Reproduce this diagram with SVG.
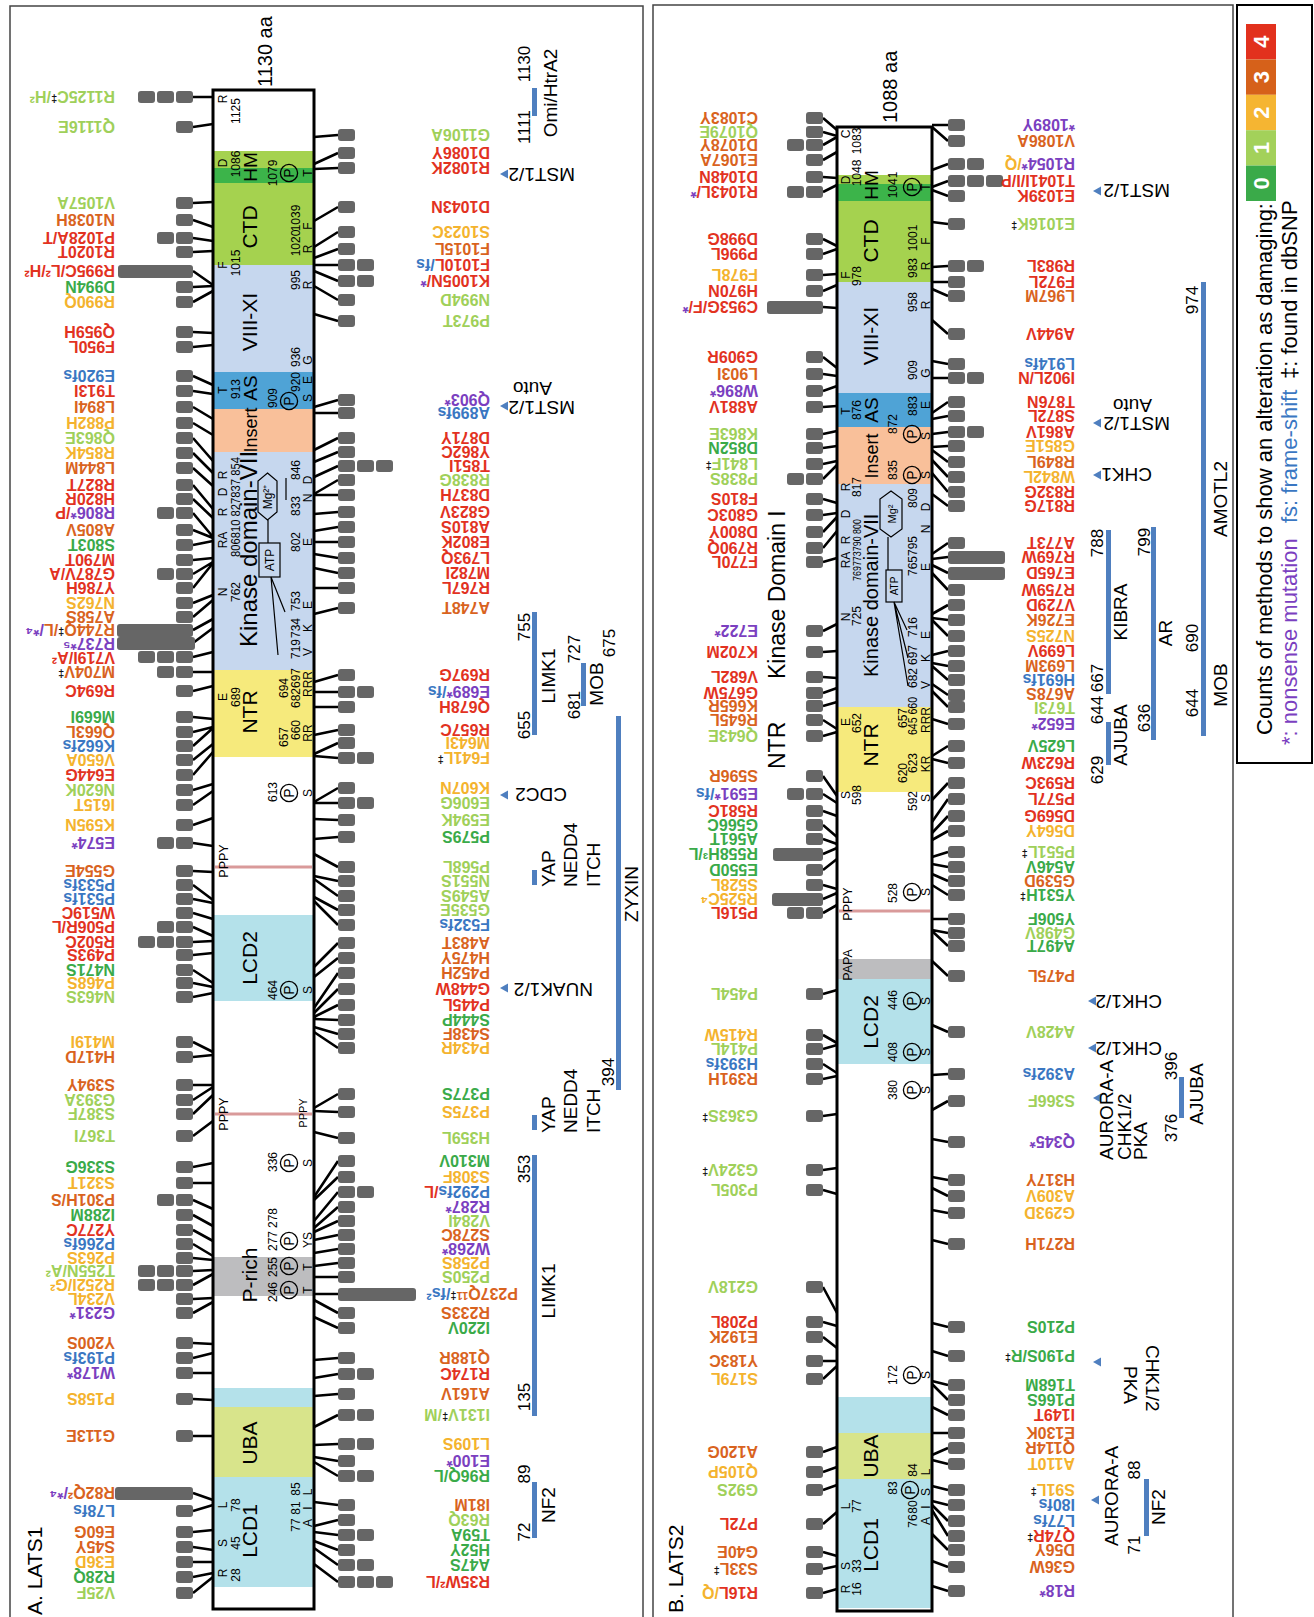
<svg xmlns="http://www.w3.org/2000/svg" xmlns:xlink="http://www.w3.org/1999/xlink" width="1314" height="1617" viewBox="0 0 1314 1617">
<defs>
<style>
text{font-family:"Liberation Sans",Arial,sans-serif}
.m{font-weight:bold;font-size:16px}
.c0{fill:#3aaa49}.c1{fill:#9fd05a}.c2{fill:#f4b32e}.c3{fill:#d9631e}.c4{fill:#e2321f}.cn{fill:#7b3fc0}.cf{fill:#3a77c2}.ck{fill:#111}
.dg{font-size:11px}
.s{font-size:12px}
.d{font-size:21px}
.p{font-size:19px}
.n{font-size:17px}
.ln{stroke:#000;stroke-width:2.6;fill:none}
.bar{fill:#4f7fbf}
.tri{fill:#4f7fbf}
.big{fill:#666}
.fr{fill:none;stroke:#444;stroke-width:1.5}
</style>
<rect id="k" width="17" height="12" rx="3" fill="#666"/>
<g id="cp"><circle r="8.6" fill="none" stroke="#000" stroke-width="1.3"/><text y="4.8" text-anchor="middle" style="font-size:14px">P</text></g>
</defs>
<rect width="1314" height="1617" fill="#fff"/>
<g id="frames">
<rect class="fr" x="10" y="6" width="633" height="1625"/>
<rect class="fr" x="653" y="5" width="580" height="1625"/>
<rect x="1237" y="5" width="75" height="758" fill="none" stroke="#000" stroke-width="2"/>
</g>

<g id="A-protein">
<rect x="213" y="90" width="101" height="1519" fill="#fff"/>
<rect x="213" y="151" width="101" height="17" fill="#a5d24f"/>
<rect x="213" y="168" width="101" height="15" fill="#3cb44a"/>
<rect x="213" y="183" width="101" height="82" fill="#a5d24f"/>
<rect x="213" y="265" width="101" height="107" fill="#c6d7ee"/>
<rect x="213" y="372" width="101" height="37" fill="#4fa3d6"/>
<rect x="213" y="409" width="101" height="43" fill="#f9c09a"/>
<rect x="213" y="452" width="101" height="218" fill="#c6d7ee"/>
<rect x="213" y="670" width="101" height="87" fill="#f6ea7c"/>
<rect x="213" y="915" width="101" height="86" fill="#b4e1ea"/>
<rect x="213" y="1257" width="101" height="39" fill="#bdbdbf"/>
<rect x="213" y="1388" width="101" height="19" fill="#b4e1ea"/>
<rect x="213" y="1407" width="101" height="70" fill="#d8e48b"/>
<rect x="213" y="1477" width="101" height="110" fill="#b4e1ea"/>
<path d="M215 867H312M215 1114H312" stroke="#d99a9a" stroke-width="3"/>
<rect x="213" y="90" width="101" height="1519" fill="none" stroke="#000" stroke-width="3"/>
<polygon points="267.5,473 277,481 277,512 267.5,520 258,512 258,481" fill="none" stroke="#000" stroke-width="1.2"/>
<rect x="259" y="543" width="21" height="34" fill="none" stroke="#000" stroke-width="1.2"/>
<path d="M268 520V543M271 577L278 655M271 577L285 612M286 478V500" stroke="#000" stroke-width="1.2" fill="none"/>
<g transform="rotate(-90)">
<text class="d" x="-167" y="257" text-anchor="middle" style="font-size:19px">HM</text>
<text class="d" x="-227" y="257" text-anchor="middle">CTD</text>
<text class="d" x="-322" y="257" text-anchor="middle">VIII-XI</text>
<text class="d" x="-388" y="257" text-anchor="middle" style="font-size:19px">AS</text>
<text class="d" x="-430" y="257" text-anchor="middle" style="font-size:18px">Insert</text>
<text class="d" x="-549" y="257" text-anchor="middle" style="font-size:24px">Kinase domain-VII</text>
<text class="d" x="-712" y="257" text-anchor="middle">NTR</text>
<text class="d" x="-958" y="257" text-anchor="middle">LCD2</text>
<text class="d" x="-1275" y="257" text-anchor="middle">P-rich</text>
<text class="d" x="-1443" y="257" text-anchor="middle">UBA</text>
<text class="d" x="-1531" y="257" text-anchor="middle">LCD1</text>
<text x="-497" y="272" text-anchor="middle" style="font-size:12px">Mg²⁺</text>
<text x="-560" y="274" text-anchor="middle" style="font-size:12px">ATP</text>
<text x="-87" y="272" style="font-size:20px">1130 aa</text>
<text x="-1615" y="42" style="font-size:21px">A. LATS1</text>
</g>
<g class="s" transform="rotate(-90)" text-anchor="middle">
<text x="-99" y="227">R</text><text x="-111" y="240">1125</text>
<text x="-163" y="227">D</text><text x="-164" y="240">1086</text>
<text x="-265" y="227">F</text><text x="-263" y="240">1015</text>
<text x="-390" y="227">T</text><text x="-389" y="240">913</text>
<text x="-540" y="227">RA</text><text x="-512" y="227">R</text><text x="-492" y="227">D</text><text x="-475" y="227">R</text>
<text x="-507" y="240" textLength="100" lengthAdjust="spacingAndGlyphs">806810 827837 854</text>
<text x="-592" y="227">N</text><text x="-592" y="240">762</text>
<text x="-697" y="227">E</text><text x="-697" y="240">689</text>
<text x="-861" y="228" style="font-size:12.5px">PPPY</text>
<text x="-1114" y="228" style="font-size:12.5px">PPPY</text>
<text x="-1113" y="307" style="font-size:11px">PPPY</text>
<text x="-1573" y="227">R</text><text x="-1575" y="240">28</text>
<text x="-1543" y="227">S</text><text x="-1543" y="240">45</text>
<text x="-1505" y="227">L</text><text x="-1505" y="240">78</text>
<text x="-173" y="277">1079</text><text x="-398" y="277">909</text><text x="-792" y="277">613</text><text x="-990" y="277">464</text><text x="-1162" y="277">336</text>
<text x="-1292" y="277">246</text><text x="-1267" y="277">255</text><text x="-1241" y="277">277</text><text x="-1218" y="277">278</text>
<text x="-688" y="288">694</text><text x="-737" y="288">657</text>
<text x="-218" y="300">1039</text><text x="-243" y="300">1020</text><text x="-280" y="300">995</text><text x="-357" y="300">936</text><text x="-382" y="300">920</text>
<text x="-470" y="300">846</text><text x="-506" y="300">833</text><text x="-542" y="300">802</text><text x="-601" y="300">753</text><text x="-628" y="300">734</text><text x="-649" y="300">719</text>
<text x="-678" y="300">697</text><text x="-698" y="300">682</text><text x="-730" y="300">660</text>
<text x="-1489" y="300">85</text><text x="-1508" y="300">81</text><text x="-1525" y="300">77</text>
<text x="-173" y="312">T</text><text x="-226" y="312">F</text><text x="-249" y="312">R</text><text x="-285" y="312">R</text><text x="-360" y="312">G</text><text x="-380" y="312">E</text><text x="-398" y="312">S</text>
<text x="-480" y="312">D</text><text x="-498" y="312">N</text><text x="-542" y="312">E</text><text x="-605" y="312">E</text><text x="-628" y="312">K</text><text x="-652" y="312">V</text>
<text x="-684" y="312">RRR</text><text x="-733" y="312">RR</text><text x="-793" y="312">S</text><text x="-990" y="312">S</text><text x="-1163" y="312">S</text>
<text x="-1240" y="312">YS</text><text x="-1267" y="312">T</text><text x="-1290" y="312">T</text>
<text x="-1492" y="312">L</text><text x="-1508" y="312">I</text><text x="-1523" y="312">A</text>
<use href="#cp" x="-173" y="289"/><use href="#cp" x="-401" y="289"/><use href="#cp" x="-793" y="289"/><use href="#cp" x="-990" y="289"/><use href="#cp" x="-1163" y="289"/><use href="#cp" x="-1290" y="289"/><use href="#cp" x="-1266" y="289"/><use href="#cp" x="-1241" y="289"/>
</g>
</g>

<g id="B-protein">
<rect x="837" y="127" width="95" height="1484" fill="#fff"/>
<rect x="837" y="175" width="95" height="9" fill="#a5d24f"/>
<rect x="837" y="184" width="95" height="17" fill="#3cb44a"/>
<rect x="837" y="201" width="95" height="81" fill="#a5d24f"/>
<rect x="837" y="282" width="95" height="111" fill="#c6d7ee"/>
<rect x="837" y="393" width="95" height="34" fill="#4fa3d6"/>
<rect x="837" y="427" width="95" height="57" fill="#f9c09a"/>
<rect x="837" y="484" width="95" height="223" fill="#c6d7ee"/>
<rect x="837" y="707" width="95" height="85" fill="#f6ea7c"/>
<rect x="837" y="959" width="95" height="20" fill="#bdbdbf"/>
<rect x="837" y="979" width="95" height="85" fill="#b4e1ea"/>
<rect x="837" y="1397" width="95" height="36" fill="#b4e1ea"/>
<rect x="837" y="1433" width="95" height="46" fill="#d8e48b"/>
<rect x="837" y="1479" width="95" height="129" fill="#b4e1ea"/>
<path d="M839 911H930" stroke="#d99a9a" stroke-width="3"/>
<rect x="837" y="127" width="95" height="1484" fill="none" stroke="#000" stroke-width="3"/>
<polygon points="891,491 902,499 902,529 891,537 880,529 880,499" fill="none" stroke="#000" stroke-width="1.2"/>
<rect x="886" y="570" width="16" height="32" fill="none" stroke="#000" stroke-width="1.2"/>
<path d="M888 537V570M894 602L908 686M894 602L908 658M894 602L907 630" stroke="#000" stroke-width="1.2" fill="none"/>
<g transform="rotate(-90)">
<text class="d" x="-185" y="878" text-anchor="middle" style="font-size:19px">HM</text>
<text class="d" x="-241" y="878" text-anchor="middle">CTD</text>
<text class="d" x="-336" y="878" text-anchor="middle">VIII-XI</text>
<text class="d" x="-410" y="878" text-anchor="middle" style="font-size:19px">AS</text>
<text class="d" x="-456" y="878" text-anchor="middle" style="font-size:18px">Insert</text>
<text class="d" x="-677" y="878" style="font-size:20px">Kinase domain-VII</text>
<text class="d" x="-745" y="878" text-anchor="middle">NTR</text>
<text class="d" x="-1022" y="878" text-anchor="middle">LCD2</text>
<text class="d" x="-1456" y="878" text-anchor="middle">UBA</text>
<text class="d" x="-1545" y="878" text-anchor="middle">LCD1</text>
<text x="-514" y="896" text-anchor="middle" style="font-size:11px">Mg²</text>
<text x="-586" y="898" text-anchor="middle" style="font-size:10px">ATP</text>
<text x="-123" y="897" style="font-size:20px">1088 aa</text>
<text x="-679" y="785" style="font-size:23px">Kinase Domain I</text>
<text x="-769" y="785" style="font-size:23px">NTR</text>
<text x="-1613" y="683" style="font-size:21px">B. LATS2</text>
</g>
<g class="s" transform="rotate(-90)" text-anchor="middle">
<text x="-134" y="850">C</text><text x="-180" y="850">D</text><text x="-275" y="850">F</text><text x="-411" y="850">T</text><text x="-487" y="850">R</text><text x="-514" y="850">D</text><text x="-540" y="850">R</text><text x="-560" y="850">RA</text><text x="-617" y="850">N</text><text x="-722" y="850">E</text><text x="-795" y="850">S</text>
<text x="-141" y="861">1083</text><text x="-173" y="861">1048</text><text x="-276" y="861">978</text><text x="-410" y="861">876</text><text x="-487" y="861">817</text>
<text x="-550" y="861" textLength="62" lengthAdjust="spacingAndGlyphs" style="font-size:11px">769773790 800</text>
<text x="-616" y="861">725</text><text x="-723" y="861">652</text><text x="-795" y="861">598</text>
<text x="-904" y="852" style="font-size:12.5px">PPPY</text>
<text x="-965" y="852" style="font-size:12.5px">PAPA</text>
<text x="-1589" y="850">R</text><text x="-1566" y="850">S</text><text x="-1506" y="850">L</text>
<text x="-1589" y="861">16</text><text x="-1566" y="861">33</text><text x="-1506" y="861">77</text>
<text x="-185" y="897">1041</text><text x="-424" y="897">872</text><text x="-470" y="897">835</text><text x="-893" y="897">528</text><text x="-1000" y="897">446</text><text x="-1052" y="897">408</text><text x="-1090" y="897">380</text><text x="-1375" y="897">172</text><text x="-1488" y="897">83</text>
<text x="-718" y="907">657</text><text x="-773" y="907">620</text>
<text x="-238" y="917">1001</text><text x="-268" y="917">983</text><text x="-302" y="917">958</text><text x="-370" y="917">909</text><text x="-406" y="917">883</text>
<text x="-498" y="917">809</text><text x="-546" y="917">795</text><text x="-566" y="917">765</text><text x="-627" y="917">716</text><text x="-655" y="917">697</text><text x="-678" y="917">682</text>
<text x="-716" y="917" textLength="38" lengthAdjust="spacingAndGlyphs">645 660</text><text x="-763" y="917">623</text><text x="-801" y="917">592</text>
<text x="-1470" y="917">84</text><text x="-1521" y="917">76</text><text x="-1507" y="917">80</text>
<text x="-187" y="930">T</text><text x="-241" y="930">F</text><text x="-266" y="930">R</text><text x="-305" y="930">R</text><text x="-373" y="930">G</text><text x="-405" y="930">E</text><text x="-436" y="930">S</text><text x="-475" y="930">S</text>
<text x="-507" y="930">D</text><text x="-529" y="930">N</text><text x="-567" y="930">E</text><text x="-635" y="930">E</text><text x="-658" y="930">K</text><text x="-685" y="930">V</text>
<text x="-720" y="930">RRR</text><text x="-764" y="930">KR</text><text x="-798" y="930">S</text><text x="-892" y="930">S</text><text x="-1001" y="930">S</text><text x="-1052" y="930">S</text><text x="-1090" y="930">S</text><text x="-1375" y="930">S</text>
<text x="-1521" y="930">A</text><text x="-1507" y="930">I</text><text x="-1492" y="930">S</text><text x="-1472" y="930">L</text>
<use href="#cp" x="-187" y="912"/><use href="#cp" x="-434" y="912"/><use href="#cp" x="-475" y="912"/><use href="#cp" x="-892" y="912"/><use href="#cp" x="-1001" y="912"/><use href="#cp" x="-1052" y="912"/><use href="#cp" x="-1090" y="912"/><use href="#cp" x="-1375" y="912"/><use href="#cp" x="-1490" y="910"/>
</g>
</g>

<g id="connectors" class="ln">
<path d="M213 97L193 97M213 124L193 127M213 202L193 203M213 227L193 220M213 241L193 238M213 251L193 252M213 285L193 271M213 286L193 287M213 291L193 302M213 333L193 332M213 345L193 347M213 385L193 376M213 394L193 391M213 419L193 407M213 435L193 423M213 461L193 438M213 473L193 453M213 486L193 468M213 509L193 485M213 518L193 499M213 537L193 513M213 538L193 530M213 541L193 545M213 558L193 560M213 562L193 574M213 563L193 588M213 595L193 603M213 600L193 617M213 619L193 630M213 628L193 643M213 652L193 657M213 672L193 672M213 686L193 691M213 719L193 717M213 727L193 732M213 728L193 746M213 744L193 760M213 752L193 775M213 784L193 790M213 791L193 805M213 818L193 825M213 846L193 843M213 872L193 871M213 900L193 885M213 903L193 899M213 919L193 913M213 936L193 927M213 941L193 942M213 953L193 955M213 983L193 970M213 987L193 983M213 993L193 997M213 1052L193 1042M213 1055L193 1057M213 1085L193 1085M213 1087L193 1100M213 1095L193 1114M213 1121L193 1136M213 1163L193 1167M213 1183L193 1183M213 1209L193 1200M213 1226L193 1215M213 1241L193 1230M213 1256L193 1244M213 1260L193 1258M213 1270L193 1271M213 1274L193 1285M213 1298L193 1299M213 1302L193 1313M213 1344L193 1343M213 1353L193 1358M213 1373L193 1373M213 1400L193 1399M213 1436L193 1436M213 1500L193 1493M213 1505L193 1511M213 1530L193 1532M213 1550L193 1547M213 1562L193 1562M213 1573L193 1577M213 1577L193 1593"/>
<path d="M314 137L338 135M314 164L338 153M314 169L338 168M314 221L338 207M314 247L338 232M314 258L338 249M314 265L338 265M314 271L338 281M314 286L338 300M314 314L338 321M314 407L338 400M314 413L338 413M314 450L338 438M314 462L338 452M314 477L338 466M314 494L338 480M314 495L338 495M314 514L338 512M314 531L338 527M314 542L338 542M314 554L338 558M314 568L338 573M314 588L338 588M314 614L338 608M314 682L338 675M314 692L338 692M314 707L338 707M314 735L338 730M314 754L338 743M314 756L338 758M314 802L338 788M314 803L338 803M314 819L338 820M314 839L338 837M314 854L338 867M314 876L338 881M314 879L338 896M314 897L338 910M314 901L338 925M314 967L338 943M314 977L338 958M314 1008L338 973M314 1013L338 989M314 1017L338 1005M314 1019L338 1020M314 1027L338 1034M314 1032L338 1048M314 1108L338 1094M314 1111L338 1112M314 1132L338 1138M314 1197L338 1161M314 1200L338 1177M314 1221L338 1192M314 1228L338 1207M314 1232L338 1221M314 1240L338 1235M314 1253L338 1249M314 1266L338 1263M314 1277L338 1277M314 1294L338 1294M314 1300L338 1313M314 1317L338 1328M314 1360L338 1358M314 1378L338 1374M314 1396L338 1394M314 1427L338 1415M314 1445L338 1444M314 1457L338 1461M314 1462L338 1476M314 1502L338 1505M314 1526L338 1520M314 1532L338 1535M314 1541L338 1550M314 1548L338 1565M314 1564L338 1582"/>
<path d="M837 130L823 118M837 136L823 132M837 137L823 145M837 152L823 160M837 178L823 177M837 185L823 192M837 246L823 239M837 249L823 254M837 274L823 275M837 285L823 291M837 308L823 307M837 368L823 357M837 376L823 374M837 386L823 391M837 406L823 407M837 431L823 434M837 446L823 448M837 461L823 464M837 465L823 479M837 503L823 499M837 513L823 515M837 517L823 532M837 531L823 548M837 558L823 562M837 624L823 631M837 651L823 652M837 678L823 677M837 688L823 693M837 702L823 706M837 729L823 720M837 732L823 736M837 796L823 776M837 803L823 794M837 816L823 811M837 837L823 825M837 844L823 839M837 848L823 854M837 859L823 870M837 889L823 885M837 893L823 899M837 905L823 913M837 990L823 994M837 1043L823 1035M837 1045L823 1049M837 1073L823 1064M837 1076L823 1079M837 1114L823 1116M837 1168L823 1170M837 1194L823 1190M837 1313L823 1287M837 1326L823 1322M837 1348L823 1337M837 1361L823 1361M837 1366L823 1379M837 1447L823 1452M837 1467L823 1472M837 1485L823 1490M837 1512L823 1524M837 1556L823 1552M837 1566L823 1569M837 1589L823 1593"/>
<path d="M932 125L948 125M932 127L948 141M932 170L948 164M932 187L948 181M932 190L948 196M932 222L948 224M932 267L948 266M932 282L948 282M932 289L948 296M932 320L948 334M932 361L948 364M932 378L948 378M932 413L948 402M932 419L948 416M932 434L948 432M932 447L948 446M932 450L948 462M932 460L948 477M932 473L948 492M932 494L948 506M932 554L948 543M932 559L948 557M932 565L948 573M932 573L948 590M932 614L948 605M932 618L948 620M932 620L948 636M932 655L948 651M932 663L948 666M932 666L948 680M932 684L948 695M932 691L948 707M932 719L948 724M932 756L948 746M932 759L948 763M932 800L948 783M932 822L948 799M932 833L948 816M932 840L948 831M932 857L948 852M932 864L948 867M932 874L948 881M932 885L948 895M932 919L948 919M932 930L948 933M932 931L948 946M932 961L948 976M932 1025L948 1032M932 1075L948 1074M932 1110L948 1101M932 1139L948 1142M932 1177L948 1180M932 1188L948 1196M932 1210L948 1213M932 1240L948 1244M932 1323L948 1327M932 1351L948 1356M932 1381L948 1385M932 1384L948 1400M932 1407L948 1415M932 1433L948 1433M932 1455L948 1448M932 1460L948 1464M932 1486L948 1490M932 1501L948 1505M932 1505L948 1521M932 1510L948 1536M932 1534L948 1550M932 1561L948 1567M932 1586L948 1591"/>
</g>

<g id="A-left-counts">
<use href="#k" x="176" y="91"/><use href="#k" x="157" y="91"/><use href="#k" x="138" y="91"/>
<use href="#k" x="176" y="121"/><use href="#k" x="176" y="197"/><use href="#k" x="176" y="214"/>
<use href="#k" x="176" y="232"/><use href="#k" x="157" y="232"/><use href="#k" x="176" y="246"/>
<rect class="big" x="118" y="265" width="75" height="13" rx="3"/>
<use href="#k" x="176" y="281"/><use href="#k" x="176" y="296"/><use href="#k" x="176" y="326"/><use href="#k" x="176" y="341"/><use href="#k" x="176" y="370"/><use href="#k" x="176" y="385"/><use href="#k" x="176" y="401"/><use href="#k" x="176" y="417"/><use href="#k" x="176" y="432"/><use href="#k" x="176" y="447"/><use href="#k" x="176" y="462"/><use href="#k" x="176" y="479"/><use href="#k" x="176" y="493"/>
<use href="#k" x="176" y="507"/><use href="#k" x="157" y="507"/>
<use href="#k" x="176" y="524"/><use href="#k" x="176" y="539"/><use href="#k" x="176" y="554"/>
<use href="#k" x="176" y="568"/><use href="#k" x="157" y="568"/>
<use href="#k" x="176" y="582"/><use href="#k" x="176" y="597"/><use href="#k" x="176" y="611"/>
<rect class="big" x="117" y="624" width="76" height="13" rx="3"/>
<rect class="big" x="117" y="637" width="78" height="13" rx="3"/>
<use href="#k" x="176" y="651"/><use href="#k" x="157" y="651"/><use href="#k" x="138" y="651"/>
<use href="#k" x="176" y="666"/><use href="#k" x="157" y="666"/>
<use href="#k" x="176" y="685"/><use href="#k" x="176" y="711"/><use href="#k" x="176" y="726"/><use href="#k" x="176" y="740"/><use href="#k" x="176" y="754"/><use href="#k" x="176" y="769"/><use href="#k" x="176" y="784"/><use href="#k" x="176" y="799"/><use href="#k" x="176" y="819"/>
<use href="#k" x="176" y="837"/><use href="#k" x="157" y="837"/>
<use href="#k" x="176" y="865"/><use href="#k" x="176" y="879"/><use href="#k" x="176" y="893"/><use href="#k" x="176" y="907"/>
<use href="#k" x="176" y="921"/><use href="#k" x="157" y="921"/>
<use href="#k" x="176" y="936"/><use href="#k" x="157" y="936"/><use href="#k" x="138" y="936"/>
<use href="#k" x="176" y="949"/><use href="#k" x="176" y="964"/><use href="#k" x="176" y="977"/><use href="#k" x="176" y="991"/><use href="#k" x="176" y="1036"/><use href="#k" x="176" y="1051"/><use href="#k" x="176" y="1079"/><use href="#k" x="176" y="1094"/><use href="#k" x="176" y="1108"/><use href="#k" x="176" y="1130"/><use href="#k" x="176" y="1161"/><use href="#k" x="176" y="1177"/>
<use href="#k" x="176" y="1194"/><use href="#k" x="157" y="1194"/>
<use href="#k" x="176" y="1209"/><use href="#k" x="176" y="1224"/><use href="#k" x="176" y="1238"/><use href="#k" x="176" y="1252"/>
<use href="#k" x="176" y="1265"/><use href="#k" x="157" y="1265"/><use href="#k" x="138" y="1265"/>
<use href="#k" x="176" y="1279"/><use href="#k" x="157" y="1279"/><use href="#k" x="138" y="1279"/>
<use href="#k" x="176" y="1293"/><use href="#k" x="176" y="1307"/><use href="#k" x="176" y="1337"/><use href="#k" x="176" y="1352"/><use href="#k" x="176" y="1367"/><use href="#k" x="176" y="1393"/><use href="#k" x="176" y="1430"/>
<rect class="big" x="115" y="1487" width="78" height="13" rx="3"/>
<use href="#k" x="176" y="1505"/><use href="#k" x="176" y="1526"/><use href="#k" x="176" y="1541"/><use href="#k" x="176" y="1556"/><use href="#k" x="176" y="1571"/><use href="#k" x="176" y="1587"/>
</g>
<g id="A-right-counts">
<use href="#k" x="338" y="129"/><use href="#k" x="338" y="147"/><use href="#k" x="338" y="162"/><use href="#k" x="338" y="201"/><use href="#k" x="338" y="226"/><use href="#k" x="338" y="243"/>
<use href="#k" x="338" y="259"/><use href="#k" x="357" y="259"/><use href="#k" x="338" y="275"/><use href="#k" x="357" y="275"/>
<use href="#k" x="338" y="294"/><use href="#k" x="338" y="315"/><use href="#k" x="338" y="394"/><use href="#k" x="338" y="407"/><use href="#k" x="338" y="432"/><use href="#k" x="338" y="446"/>
<use href="#k" x="338" y="460"/><use href="#k" x="357" y="460"/><use href="#k" x="376" y="460"/>
<use href="#k" x="338" y="474"/><use href="#k" x="338" y="489"/><use href="#k" x="338" y="506"/><use href="#k" x="338" y="521"/><use href="#k" x="338" y="536"/><use href="#k" x="338" y="552"/><use href="#k" x="338" y="567"/><use href="#k" x="338" y="582"/><use href="#k" x="338" y="602"/><use href="#k" x="338" y="669"/>
<use href="#k" x="338" y="686"/><use href="#k" x="357" y="686"/>
<use href="#k" x="338" y="701"/><use href="#k" x="338" y="724"/><use href="#k" x="338" y="737"/>
<use href="#k" x="338" y="752"/><use href="#k" x="357" y="752"/>
<use href="#k" x="338" y="782"/><use href="#k" x="338" y="797"/><use href="#k" x="357" y="797"/>
<use href="#k" x="338" y="814"/><use href="#k" x="338" y="831"/><use href="#k" x="338" y="861"/><use href="#k" x="338" y="875"/><use href="#k" x="338" y="890"/><use href="#k" x="338" y="904"/><use href="#k" x="338" y="919"/><use href="#k" x="338" y="937"/><use href="#k" x="338" y="952"/><use href="#k" x="338" y="967"/><use href="#k" x="338" y="983"/><use href="#k" x="338" y="999"/><use href="#k" x="338" y="1014"/><use href="#k" x="338" y="1028"/><use href="#k" x="338" y="1042"/><use href="#k" x="338" y="1088"/><use href="#k" x="338" y="1106"/><use href="#k" x="338" y="1132"/><use href="#k" x="338" y="1155"/><use href="#k" x="338" y="1171"/>
<use href="#k" x="338" y="1186"/><use href="#k" x="357" y="1186"/>
<use href="#k" x="338" y="1201"/><use href="#k" x="338" y="1215"/><use href="#k" x="338" y="1229"/><use href="#k" x="338" y="1243"/><use href="#k" x="338" y="1257"/><use href="#k" x="338" y="1271"/>
<rect class="big" x="338" y="1288" width="78" height="13" rx="3"/>
<use href="#k" x="338" y="1307"/><use href="#k" x="338" y="1322"/><use href="#k" x="338" y="1352"/>
<use href="#k" x="338" y="1368"/><use href="#k" x="357" y="1368"/>
<use href="#k" x="338" y="1388"/>
<use href="#k" x="338" y="1409"/><use href="#k" x="357" y="1409"/>
<use href="#k" x="338" y="1438"/><use href="#k" x="357" y="1438"/>
<use href="#k" x="338" y="1455"/>
<use href="#k" x="338" y="1470"/><use href="#k" x="357" y="1470"/>
<use href="#k" x="338" y="1499"/><use href="#k" x="338" y="1514"/>
<use href="#k" x="338" y="1529"/><use href="#k" x="357" y="1529"/>
<use href="#k" x="338" y="1544"/>
<use href="#k" x="338" y="1559"/><use href="#k" x="357" y="1559"/>
<use href="#k" x="338" y="1576"/><use href="#k" x="357" y="1576"/><use href="#k" x="376" y="1576"/>
</g>
<g id="B-left-counts">
<use href="#k" x="806" y="112"/><use href="#k" x="806" y="126"/><use href="#k" x="806" y="139"/><use href="#k" x="787" y="139"/><use href="#k" x="806" y="154"/><use href="#k" x="806" y="171"/><use href="#k" x="806" y="186"/><use href="#k" x="787" y="186"/>
<use href="#k" x="806" y="233"/><use href="#k" x="806" y="248"/><use href="#k" x="806" y="269"/><use href="#k" x="806" y="285"/>
<rect class="big" x="767" y="301" width="56" height="13" rx="3"/>
<use href="#k" x="806" y="351"/><use href="#k" x="806" y="368"/><use href="#k" x="806" y="385"/><use href="#k" x="806" y="401"/><use href="#k" x="806" y="428"/><use href="#k" x="806" y="442"/><use href="#k" x="806" y="458"/><use href="#k" x="806" y="473"/><use href="#k" x="787" y="473"/>
<use href="#k" x="806" y="493"/><use href="#k" x="806" y="509"/><use href="#k" x="806" y="526"/><use href="#k" x="806" y="542"/><use href="#k" x="806" y="556"/><use href="#k" x="806" y="625"/><use href="#k" x="806" y="646"/><use href="#k" x="806" y="671"/><use href="#k" x="806" y="687"/><use href="#k" x="806" y="700"/><use href="#k" x="806" y="714"/><use href="#k" x="806" y="730"/><use href="#k" x="806" y="770"/>
<use href="#k" x="806" y="788"/><use href="#k" x="787" y="788"/>
<use href="#k" x="806" y="805"/><use href="#k" x="806" y="819"/><use href="#k" x="806" y="833"/>
<rect class="big" x="773" y="848" width="50" height="13" rx="3"/>
<use href="#k" x="806" y="864"/><use href="#k" x="806" y="879"/>
<rect class="big" x="772" y="893" width="51" height="13" rx="3"/>
<use href="#k" x="806" y="907"/><use href="#k" x="787" y="907"/>
<use href="#k" x="806" y="988"/><use href="#k" x="806" y="1029"/><use href="#k" x="806" y="1043"/><use href="#k" x="806" y="1058"/><use href="#k" x="806" y="1073"/>
<use href="#k" x="806" y="1110"/><use href="#k" x="806" y="1164"/><use href="#k" x="806" y="1184"/><use href="#k" x="806" y="1281"/><use href="#k" x="806" y="1316"/><use href="#k" x="806" y="1331"/><use href="#k" x="806" y="1355"/><use href="#k" x="806" y="1373"/><use href="#k" x="806" y="1446"/><use href="#k" x="806" y="1466"/><use href="#k" x="806" y="1484"/><use href="#k" x="806" y="1518"/><use href="#k" x="806" y="1546"/><use href="#k" x="806" y="1563"/><use href="#k" x="806" y="1587"/>
</g>
<g id="B-right-counts">
<use href="#k" x="948" y="119"/><use href="#k" x="948" y="135"/>
<use href="#k" x="948" y="158"/><use href="#k" x="967" y="158"/>
<use href="#k" x="948" y="175"/><use href="#k" x="967" y="175"/><use href="#k" x="986" y="175"/>
<use href="#k" x="948" y="190"/><use href="#k" x="948" y="218"/>
<use href="#k" x="948" y="260"/><use href="#k" x="967" y="260"/>
<use href="#k" x="948" y="276"/><use href="#k" x="948" y="290"/><use href="#k" x="948" y="328"/><use href="#k" x="948" y="358"/>
<use href="#k" x="948" y="372"/><use href="#k" x="967" y="372"/>
<use href="#k" x="948" y="396"/><use href="#k" x="948" y="410"/>
<use href="#k" x="948" y="426"/><use href="#k" x="967" y="426"/>
<use href="#k" x="948" y="440"/><use href="#k" x="948" y="456"/><use href="#k" x="948" y="471"/><use href="#k" x="948" y="486"/><use href="#k" x="948" y="500"/><use href="#k" x="948" y="537"/>
<rect class="big" x="948" y="551" width="57" height="13" rx="3"/>
<rect class="big" x="948" y="567" width="57" height="13" rx="3"/>
<use href="#k" x="948" y="584"/><use href="#k" x="948" y="599"/><use href="#k" x="948" y="614"/><use href="#k" x="948" y="630"/><use href="#k" x="948" y="645"/><use href="#k" x="948" y="660"/><use href="#k" x="948" y="674"/><use href="#k" x="948" y="689"/><use href="#k" x="948" y="701"/><use href="#k" x="948" y="718"/><use href="#k" x="948" y="740"/><use href="#k" x="948" y="757"/><use href="#k" x="948" y="777"/><use href="#k" x="948" y="793"/><use href="#k" x="948" y="810"/><use href="#k" x="948" y="825"/><use href="#k" x="948" y="846"/><use href="#k" x="948" y="861"/><use href="#k" x="948" y="875"/><use href="#k" x="948" y="889"/><use href="#k" x="948" y="913"/><use href="#k" x="948" y="927"/><use href="#k" x="948" y="940"/><use href="#k" x="948" y="970"/><use href="#k" x="948" y="1026"/><use href="#k" x="948" y="1068"/>
<use href="#k" x="948" y="1095"/><use href="#k" x="948" y="1136"/><use href="#k" x="948" y="1174"/><use href="#k" x="948" y="1190"/><use href="#k" x="948" y="1207"/><use href="#k" x="948" y="1238"/><use href="#k" x="948" y="1321"/><use href="#k" x="948" y="1350"/><use href="#k" x="948" y="1379"/><use href="#k" x="948" y="1394"/><use href="#k" x="948" y="1409"/><use href="#k" x="948" y="1427"/><use href="#k" x="948" y="1442"/><use href="#k" x="948" y="1458"/><use href="#k" x="948" y="1484"/><use href="#k" x="948" y="1499"/><use href="#k" x="948" y="1515"/><use href="#k" x="948" y="1530"/><use href="#k" x="948" y="1544"/><use href="#k" x="948" y="1561"/><use href="#k" x="948" y="1585"/>
</g>

<g id="A-left-labels" class="m" transform="rotate(180)">
<text class="c1" x="-115" y="-91">R1125C<tspan class="ck dg" dy="-4">‡</tspan><tspan dy="4">/H²</tspan></text>
<text class="c1" x="-115" y="-121">Q1116E</text><text class="c1" x="-115" y="-197">V1057A</text><text class="c3" x="-115" y="-214">N1038H</text><text class="c4" x="-115" y="-232">P1028A/T</text><text class="c4" x="-115" y="-246">R1020T</text><text class="c4" x="-115" y="-265">R995C/L²/H²</text><text class="c0" x="-115" y="-281">D994N</text><text class="c2" x="-115" y="-296">R990Q</text><text class="c4" x="-115" y="-326">Q959H</text><text class="c4" x="-115" y="-341">F950L</text><text class="cf" x="-115" y="-370">E920fs</text><text class="c4" x="-115" y="-385">T913I</text><text class="c3" x="-115" y="-401">L894I</text><text class="c2" x="-115" y="-417">P882H</text><text class="c1" x="-115" y="-432">Q863E</text><text class="c2" x="-115" y="-447">R854K</text><text class="c3" x="-115" y="-462">L844M</text><text class="c4" x="-115" y="-479">R827T</text><text class="c4" x="-115" y="-493">H820R</text>
<text class="cn" x="-115" y="-507">R806*<tspan class="c4">/P</tspan></text>
<text class="c3" x="-115" y="-524">A805V</text><text class="c0" x="-115" y="-539">S803T</text><text class="c4" x="-115" y="-554">M790T</text><text class="c4" x="-115" y="-568">G787V/A</text><text class="c4" x="-115" y="-582">Y786H</text><text class="c2" x="-115" y="-597">N762S</text><text class="c3" x="-115" y="-611">A758S</text>
<text class="c3" x="-115" y="-624">R744Q<tspan class="ck dg" dy="-4">‡</tspan><tspan dy="4">/L</tspan><tspan class="cn">/*⁴</tspan></text>
<text class="cn" x="-115" y="-638">R737*⁵</text><text class="c4" x="-115" y="-652">V719I/A²</text>
<text class="c3" x="-115" y="-666">M704V<tspan class="ck dg" dy="-4">‡</tspan></text>
<text class="c4" x="-115" y="-685">R694C</text><text class="c0" x="-115" y="-711">M669I</text><text class="c3" x="-115" y="-726">Q663L</text><text class="cf" x="-115" y="-740">K662fs</text><text class="c2" x="-115" y="-754">V650A</text><text class="c4" x="-115" y="-769">E644G</text><text class="c1" x="-115" y="-784">N620K</text><text class="c2" x="-115" y="-799">I615T</text><text class="c2" x="-115" y="-819">K595N</text><text class="cn" x="-115" y="-837">E574*</text><text class="c3" x="-115" y="-865">G554E</text><text class="cf" x="-115" y="-879">P533fs</text><text class="cf" x="-115" y="-893">P531fs</text><text class="c4" x="-115" y="-907">W519C</text><text class="c4" x="-115" y="-921">P506R/L</text><text class="c4" x="-115" y="-936">R502C</text><text class="c4" x="-115" y="-949">P493S</text><text class="c0" x="-115" y="-964">N471S</text><text class="c2" x="-115" y="-977">P468S</text><text class="c1" x="-115" y="-991">N463S</text><text class="c2" x="-115" y="-1036">M419I</text><text class="c3" x="-115" y="-1051">H417D</text><text class="c3" x="-115" y="-1079">S394Y</text><text class="c1" x="-115" y="-1094">G393A</text><text class="c1" x="-115" y="-1108">S387F</text><text class="c1" x="-115" y="-1130">T367I</text><text class="c0" x="-115" y="-1161">S336G</text><text class="c2" x="-115" y="-1177">S321T</text><text class="c3" x="-115" y="-1194">P301H/S</text><text class="c0" x="-115" y="-1209">I288M</text><text class="c4" x="-115" y="-1224">Y277C</text><text class="cf" x="-115" y="-1238">P266fs</text><text class="c2" x="-115" y="-1252">P263S</text><text class="c1" x="-115" y="-1265">T255N/A²</text><text class="c2" x="-115" y="-1279">R252I/G²</text><text class="c2" x="-115" y="-1293">V234L</text><text class="cn" x="-115" y="-1307">G231*</text><text class="c3" x="-115" y="-1337">Y200S</text><text class="cf" x="-115" y="-1352">P193fs</text><text class="cn" x="-115" y="-1367">W178*</text><text class="c2" x="-115" y="-1393">P158S</text><text class="c3" x="-115" y="-1430">G113E</text>
<text class="c3" x="-115" y="-1487">R82Q²<tspan class="cn">/*⁴</tspan></text>
<text class="cf" x="-115" y="-1505">L78fs</text><text class="c3" x="-115" y="-1526">E60G</text><text class="c3" x="-115" y="-1541">S45Y</text><text class="c2" x="-115" y="-1556">E36D</text><text class="c0" x="-115" y="-1571">R28Q</text><text class="c1" x="-115" y="-1587">V25F</text>
</g>
<g id="A-right-labels" class="m" transform="rotate(180)">
<text class="c1" x="-490" y="-129">G1106A</text><text class="c4" x="-490" y="-147">D1086Y</text><text class="c4" x="-490" y="-162">R1082K</text><text class="c4" x="-490" y="-201">D1043N</text><text class="c2" x="-490" y="-226">S1023C</text><text class="c3" x="-490" y="-243">F1015L</text>
<text class="c4" x="-490" y="-259">F1010L<tspan class="cf">/fs</tspan></text>
<text class="c4" x="-490" y="-275">K1005N/<tspan class="cn">*</tspan></text>
<text class="c1" x="-490" y="-294">N994D</text><text class="c1" x="-490" y="-315">P973T</text><text class="cn" x="-490" y="-394">Q903*</text><text class="cf" x="-490" y="-407">A899fs</text><text class="c4" x="-490" y="-432">D871Y</text><text class="c4" x="-490" y="-446">Y862C</text><text class="c4" x="-490" y="-460">T851I</text><text class="c1" x="-490" y="-474">R838G</text><text class="c4" x="-490" y="-489">D837H</text><text class="c4" x="-490" y="-506">G823V</text><text class="c4" x="-490" y="-521">A810S</text><text class="c4" x="-490" y="-536">E802K</text><text class="c4" x="-490" y="-552">L793Q</text><text class="c4" x="-490" y="-567">M782I</text><text class="c4" x="-490" y="-582">R767L</text><text class="c3" x="-490" y="-602">A748T</text><text class="c4" x="-490" y="-669">R697G</text>
<text class="cn" x="-490" y="-686">E689*<tspan class="cf">/fs</tspan></text>
<text class="c4" x="-490" y="-701">Q678H</text><text class="c4" x="-490" y="-724">R657C</text><text class="c2" x="-490" y="-737">M643I</text>
<text class="c2" x="-490" y="-752">F641L<tspan class="ck dg" dy="-4">‡</tspan></text>
<text class="c2" x="-490" y="-782">K607N</text><text class="c1" x="-490" y="-797">E606G</text><text class="c1" x="-490" y="-814">E594K</text><text class="c0" x="-490" y="-831">P579S</text><text class="c1" x="-490" y="-861">P568L</text><text class="c1" x="-490" y="-875">N551S</text><text class="c1" x="-490" y="-890">A549S</text><text class="c1" x="-490" y="-904">G535E</text><text class="cf" x="-490" y="-919">F532fs</text><text class="c3" x="-490" y="-937">A483T</text><text class="c3" x="-490" y="-952">H475Y</text><text class="c3" x="-490" y="-967">P452H</text><text class="c4" x="-490" y="-983">G448W</text><text class="c4" x="-490" y="-999">P445L</text><text class="c0" x="-490" y="-1014">S444P</text><text class="c3" x="-490" y="-1028">S438F</text><text class="c2" x="-490" y="-1042">P434R</text><text class="c0" x="-490" y="-1088">P377S</text><text class="c2" x="-490" y="-1106">P375S</text><text class="c1" x="-490" y="-1132">H359L</text><text class="c0" x="-490" y="-1155">M310V</text><text class="c2" x="-490" y="-1171">S308F</text>
<text class="cf" x="-490" y="-1186">P292fs<tspan class="c4">/L</tspan></text>
<text class="cn" x="-490" y="-1201">R287*</text><text class="c1" x="-490" y="-1215">V284I</text><text class="c3" x="-490" y="-1229">S278C</text><text class="cn" x="-490" y="-1243">W268*</text><text class="c2" x="-490" y="-1257">P258S</text><text class="c1" x="-490" y="-1271">P250S</text>
<text class="c3" x="-518" y="-1288">P237Q<tspan class="dg" dy="-4">11</tspan><tspan class="ck dg">‡</tspan><tspan class="cf" dy="4">/fs²</tspan></text>
<text class="c3" x="-490" y="-1307">R233S</text><text class="c0" x="-490" y="-1322">I220V</text><text class="c3" x="-490" y="-1352">Q188R</text><text class="c4" x="-490" y="-1368">R174C</text><text class="c3" x="-490" y="-1388">A161V</text>
<text class="c1" x="-490" y="-1409">I131V<tspan class="ck dg" dy="-4">‡</tspan><tspan dy="4">/M</tspan></text>
<text class="c2" x="-490" y="-1438">L109S</text><text class="cn" x="-490" y="-1455">E100*</text><text class="c0" x="-490" y="-1470">R96Q/L</text><text class="c3" x="-490" y="-1499">I81M</text><text class="c1" x="-490" y="-1514">R63Q</text><text class="c0" x="-490" y="-1529">T59A</text><text class="c0" x="-490" y="-1544">H52Y</text><text class="c0" x="-490" y="-1559">A47S</text><text class="c4" x="-490" y="-1576">R35W²/L</text>
</g>
<g id="B-left-labels" class="m" transform="rotate(180)">
<text class="c3" x="-758" y="-112">C1083Y</text><text class="c1" x="-758" y="-126">Q1079E</text><text class="c3" x="-758" y="-139">D1078Y</text><text class="c3" x="-758" y="-154">E1067A</text><text class="c4" x="-758" y="-171">D1048N</text>
<text class="c4" x="-758" y="-186">R1043L/<tspan class="cn">*</tspan></text>
<text class="c4" x="-758" y="-233">D998G</text><text class="c4" x="-758" y="-248">P996L</text><text class="c2" x="-758" y="-269">F978L</text><text class="c4" x="-758" y="-285">H970N</text>
<text class="c4" x="-758" y="-301">C953G/F/<tspan class="cn">*</tspan></text>
<text class="c4" x="-758" y="-351">G909R</text><text class="c3" x="-758" y="-368">L903I</text><text class="cn" x="-758" y="-385">W896*</text><text class="c4" x="-758" y="-401">A881V</text><text class="c1" x="-758" y="-428">K863E</text><text class="c0" x="-758" y="-442">D852N</text>
<text class="c1" x="-758" y="-458">L841F<tspan class="ck dg" dy="-4">‡</tspan></text>
<text class="c1" x="-758" y="-473">P838S</text><text class="c4" x="-758" y="-493">F810S</text><text class="c4" x="-758" y="-509">G803C</text><text class="c4" x="-758" y="-526">D800Y</text><text class="c4" x="-758" y="-542">R790Q</text><text class="c4" x="-758" y="-556">F770L</text><text class="cn" x="-758" y="-625">E722*</text><text class="c4" x="-758" y="-646">K702M</text><text class="c4" x="-758" y="-671">V682L</text><text class="c4" x="-758" y="-687">G675W</text><text class="c3" x="-758" y="-700">K665R</text><text class="c3" x="-758" y="-714">R645L</text><text class="c1" x="-758" y="-730">Q643E</text><text class="c3" x="-758" y="-770">S596R</text>
<text class="cn" x="-758" y="-788">E591*<tspan class="cf">/fs</tspan></text>
<text class="c4" x="-758" y="-805">R581C</text><text class="c0" x="-758" y="-819">G566C</text><text class="c0" x="-758" y="-833">A561T</text><text class="c0" x="-758" y="-848">R558H³/L</text><text class="c0" x="-758" y="-864">E550D</text><text class="c2" x="-758" y="-879">S528L</text><text class="c2" x="-758" y="-893">R525C⁴</text><text class="c4" x="-758" y="-907">P516L</text><text class="c1" x="-758" y="-988">P454L</text><text class="c2" x="-758" y="-1029">R415W</text><text class="c1" x="-758" y="-1043">P414L</text><text class="cf" x="-758" y="-1058">H393fs</text><text class="c3" x="-758" y="-1073">R391H</text>
<text class="c1" x="-758" y="-1110">G363S<tspan class="ck dg" dy="-4">‡</tspan></text>
<text class="c1" x="-758" y="-1164">G324V<tspan class="ck dg" dy="-4">‡</tspan></text>
<text class="c1" x="-758" y="-1184">P305L</text><text class="c1" x="-758" y="-1281">G218V</text><text class="c4" x="-758" y="-1316">P208L</text><text class="c3" x="-758" y="-1331">E192K</text><text class="c3" x="-758" y="-1355">Y183C</text><text class="c2" x="-758" y="-1373">S179L</text><text class="c3" x="-758" y="-1446">A120G</text><text class="c2" x="-758" y="-1466">Q105P</text><text class="c1" x="-758" y="-1484">G92S</text><text class="c4" x="-758" y="-1518">P72L</text><text class="c3" x="-758" y="-1546">G40E</text>
<text class="c3" x="-758" y="-1563">S33L<tspan class="ck dg" dy="-4">‡</tspan></text>
<text class="c4" x="-758" y="-1587">R16L<tspan class="c2">/Q</tspan></text>
</g>
<g id="B-right-labels" class="m" transform="rotate(180)">
<text class="cn" x="-1075" y="-119">*1089Y</text><text class="c3" x="-1075" y="-135">V1086A</text>
<text class="cn" x="-1075" y="-158">R1054*<tspan class="c2">/Q</tspan></text>
<text class="c4" x="-1075" y="-175">T1041I/I/P</text><text class="c4" x="-1075" y="-190">E1039K</text>
<text class="c1" x="-1075" y="-218">E1016K<tspan class="ck dg" dy="-4">‡</tspan></text>
<text class="c4" x="-1075" y="-260">R983L</text><text class="c4" x="-1075" y="-276">F972L</text><text class="c3" x="-1075" y="-290">L967M</text><text class="c4" x="-1075" y="-328">A944V</text><text class="cf" x="-1075" y="-358">L914fs</text><text class="c4" x="-1075" y="-372">I902L/N</text><text class="c4" x="-1075" y="-396">T876N</text><text class="c4" x="-1075" y="-410">S872L</text><text class="c4" x="-1075" y="-426">A861V</text><text class="c2" x="-1075" y="-440">G851E</text><text class="c3" x="-1075" y="-456">R849L</text><text class="c2" x="-1075" y="-471">W842L</text><text class="c4" x="-1075" y="-486">R832G</text><text class="c4" x="-1075" y="-500">R817G</text><text class="c4" x="-1075" y="-537">A773T</text><text class="c4" x="-1075" y="-551">R769W</text><text class="c4" x="-1075" y="-567">E765D</text><text class="c4" x="-1075" y="-584">R759W</text><text class="c4" x="-1075" y="-599">V729D</text><text class="c3" x="-1075" y="-614">E726K</text><text class="c2" x="-1075" y="-630">N725S</text><text class="c4" x="-1075" y="-645">L699V</text><text class="c3" x="-1075" y="-660">L693M</text><text class="cf" x="-1075" y="-674">H691fs</text><text class="c3" x="-1075" y="-688">A678S</text><text class="c1" x="-1075" y="-702">T673I</text><text class="cn" x="-1075" y="-718">E652*</text><text class="c0" x="-1075" y="-740">L625V</text><text class="c4" x="-1075" y="-757">R623W</text><text class="c4" x="-1075" y="-777">R593C</text><text class="c4" x="-1075" y="-793">P577L</text><text class="c4" x="-1075" y="-810">D569G</text><text class="c2" x="-1075" y="-825">D564Y</text>
<text class="c1" x="-1075" y="-846">P551L<tspan class="ck dg" dy="-4">‡</tspan></text>
<text class="c0" x="-1075" y="-861">A546V</text><text class="c3" x="-1075" y="-875">G539D</text>
<text class="c0" x="-1075" y="-889">Y531H<tspan class="ck dg" dy="-4">‡</tspan></text>
<text class="c0" x="-1075" y="-913">Y506F</text><text class="c1" x="-1075" y="-927">G498V</text><text class="c0" x="-1075" y="-940">A497T</text><text class="c3" x="-1075" y="-970">P475L</text><text class="c1" x="-1075" y="-1026">A428V</text><text class="cf" x="-1075" y="-1068">A392fs</text><text class="c1" x="-1075" y="-1095">S366F</text><text class="cn" x="-1075" y="-1136">Q345*</text><text class="c3" x="-1075" y="-1174">H317Y</text><text class="c2" x="-1075" y="-1190">A309V</text><text class="c2" x="-1075" y="-1207">G293D</text><text class="c3" x="-1075" y="-1238">R271H</text><text class="c0" x="-1075" y="-1321">P210S</text>
<text class="c0" x="-1075" y="-1350">P190S/R<tspan class="ck dg" dy="-4">‡</tspan></text>
<text class="c0" x="-1075" y="-1379">T168M</text><text class="c0" x="-1075" y="-1394">P166S</text><text class="c4" x="-1075" y="-1409">I149T</text><text class="c3" x="-1075" y="-1427">E130K</text><text class="c3" x="-1075" y="-1442">Q114R</text><text class="c2" x="-1075" y="-1458">A110T</text>
<text class="c2" x="-1075" y="-1484">S91L<tspan class="ck dg" dy="-4">‡</tspan></text>
<text class="cf" x="-1075" y="-1499">I80fs</text><text class="cf" x="-1075" y="-1515">L77fs</text>
<text class="c4" x="-1075" y="-1530">Q74R<tspan class="ck dg" dy="-4">‡</tspan></text>
<text class="c3" x="-1075" y="-1544">D56Y</text><text class="c3" x="-1075" y="-1561">G36W</text><text class="cn" x="-1075" y="-1585">R18*</text>
</g>

<g id="A-partners">
<rect class="bar" x="532" y="88" width="5" height="28"/>
<rect class="bar" x="532" y="612" width="5" height="123"/>
<rect class="bar" x="581" y="663" width="5" height="43"/>
<rect class="bar" x="616" y="716" width="5" height="374"/>
<rect class="bar" x="532" y="870" width="5" height="15"/>
<rect class="bar" x="532" y="1115" width="5" height="15"/>
<rect class="bar" x="532" y="1155" width="5" height="261"/>
<rect class="bar" x="532" y="1482" width="5" height="56"/>
<polygon class="tri" points="500,174 508,169.5 508,178.5"/>
<polygon class="tri" points="500,406 508,401.5 508,410.5"/>
<polygon class="tri" points="500,795 508,790.5 508,799.5"/>
<polygon class="tri" points="500,988 508,983.5 508,992.5"/>
<g class="p" transform="rotate(180)">
<text x="-575" y="-168">MST1/2</text><text x="-552" y="-382">Auto</text><text x="-575" y="-401">MST1/2</text><text x="-567" y="-788">CDC2</text><text x="-593" y="-983">NUAK1/2</text>
</g>
<g transform="rotate(-90)" text-anchor="middle">
<text class="n" x="-64" y="530">1130</text><text class="n" x="-127" y="530">1111</text><text class="p" x="-93" y="557">Omi/HtrA2</text>
<text class="n" x="-627" y="530">755</text><text class="n" x="-725" y="530">655</text><text class="p" x="-676" y="555">LIMK1</text>
<text class="n" x="-649" y="580">727</text><text class="n" x="-705" y="580">681</text><text class="p" x="-684" y="603">MOB</text><text class="n" x="-643" y="615">675</text>
<text class="p" x="-894" y="638">ZYXIN</text><text class="n" x="-1072" y="614">394</text>
<text class="n" x="-1169" y="530">353</text><text class="p" x="-1291" y="555">LIMK1</text><text class="n" x="-1397" y="530">135</text>
<text class="n" x="-1474" y="530">89</text><text class="p" x="-1505" y="555">NF2</text><text class="n" x="-1532" y="530">72</text>
</g>
<g class="p" transform="rotate(-90)">
<text x="-887" y="555">YAP</text><text x="-887" y="577">NEDD4</text><text x="-887" y="600">ITCH</text>
<text x="-1133" y="555">YAP</text><text x="-1133" y="577">NEDD4</text><text x="-1133" y="600">ITCH</text>
</g>
</g>
<g id="B-partners">
<rect class="bar" x="1201" y="282" width="5" height="454"/>
<rect class="bar" x="1106" y="530" width="5" height="164"/>
<rect class="bar" x="1106" y="722" width="5" height="43"/>
<rect class="bar" x="1151" y="527" width="5" height="213"/>
<rect class="bar" x="1179" y="1077" width="5" height="41"/>
<rect class="bar" x="1144" y="1479" width="5" height="57"/>
<polygon class="tri" points="1093,191 1101,186.5 1101,195.5"/>
<polygon class="tri" points="1093,423 1101,418.5 1101,427.5"/>
<polygon class="tri" points="1093,475 1101,470.5 1101,479.5"/>
<polygon class="tri" points="1088,1001 1096,996.5 1096,1005.5"/>
<polygon class="tri" points="1088,1048 1096,1043.5 1096,1052.5"/>
<polygon class="tri" points="1093,1098 1101,1093.5 1101,1102.5"/>
<polygon class="tri" points="1093,1362 1101,1357.5 1101,1366.5"/>
<polygon class="tri" points="1091,1500 1099,1495.5 1099,1504.5"/>
<g class="p" transform="rotate(180)">
<text x="-1170" y="-184">MST1/2</text><text x="-1152" y="-399">Auto</text><text x="-1170" y="-417">MST1/2</text><text x="-1152" y="-468">CHK1</text><text x="-1162" y="-995">CHK1/2</text><text x="-1162" y="-1042">CHK1/2</text>
</g>
<g transform="rotate(-90)" text-anchor="middle">
<text class="n" x="-300" y="1198">974</text><text class="p" x="-499" y="1227">AMOTL2</text><text class="n" x="-638" y="1198">690</text><text class="p" x="-685" y="1227">MOB</text><text class="n" x="-703" y="1198">644</text>
<text class="n" x="-543" y="1103">788</text><text class="p" x="-612" y="1127">KIBRA</text><text class="n" x="-678" y="1103">667</text><text class="n" x="-710" y="1103">644</text><text class="p" x="-735" y="1127">AJUBA</text><text class="n" x="-770" y="1103">629</text>
<text class="n" x="-542" y="1150">799</text><text class="p" x="-633" y="1172">AR</text><text class="n" x="-718" y="1150">636</text>
<text class="n" x="-1066" y="1177">396</text><text class="n" x="-1128" y="1177">376</text><text class="p" x="-1094" y="1203">AJUBA</text>
<text class="n" x="-1470" y="1140">88</text><text class="p" x="-1507" y="1165">NF2</text><text class="n" x="-1545" y="1140">71</text>
</g>
<g class="p" transform="rotate(-90)">
<text x="-1160" y="1113">AURORA-A</text><text x="-1160" y="1131">CHK1/2</text><text x="-1160" y="1147">PKA</text>
<text x="-1546" y="1118">AURORA-A</text>
</g>
<g class="p" transform="rotate(90)">
<text x="1345" y="-1146">CHK1/2</text><text x="1366" y="-1124">PKA</text>
</g>
</g>

<g id="legend">
<rect x="1246" y="24" width="30" height="35.4" fill="#e2311d"/>
<rect x="1246" y="59.4" width="30" height="35.4" fill="#d6611a"/>
<rect x="1246" y="94.8" width="30" height="35.4" fill="#f5b532"/>
<rect x="1246" y="130.2" width="30" height="35.4" fill="#a3d15a"/>
<rect x="1246" y="165.6" width="30" height="35.4" fill="#3aaa49"/>
<g transform="rotate(-90)" text-anchor="middle" style="font-size:22px;font-weight:bold;fill:#fff">
<text x="-41.7" y="1269">4</text><text x="-77.1" y="1269">3</text><text x="-112.5" y="1269">2</text><text x="-147.9" y="1269">1</text><text x="-183.3" y="1269">0</text>
</g>
<g transform="rotate(-90)" style="font-size:22px">
<text x="-735" y="1272">Counts of methods to show an alteration as damaging:</text>
<text x="-745" y="1297" fill="#7b3fc0">*: nonsense mutation</text>
<text x="-523" y="1297" fill="#3a77c2">fs: frame-shift</text>
<text x="-379" y="1297">‡: found in dbSNP</text>
</g>
</g>
</svg>
